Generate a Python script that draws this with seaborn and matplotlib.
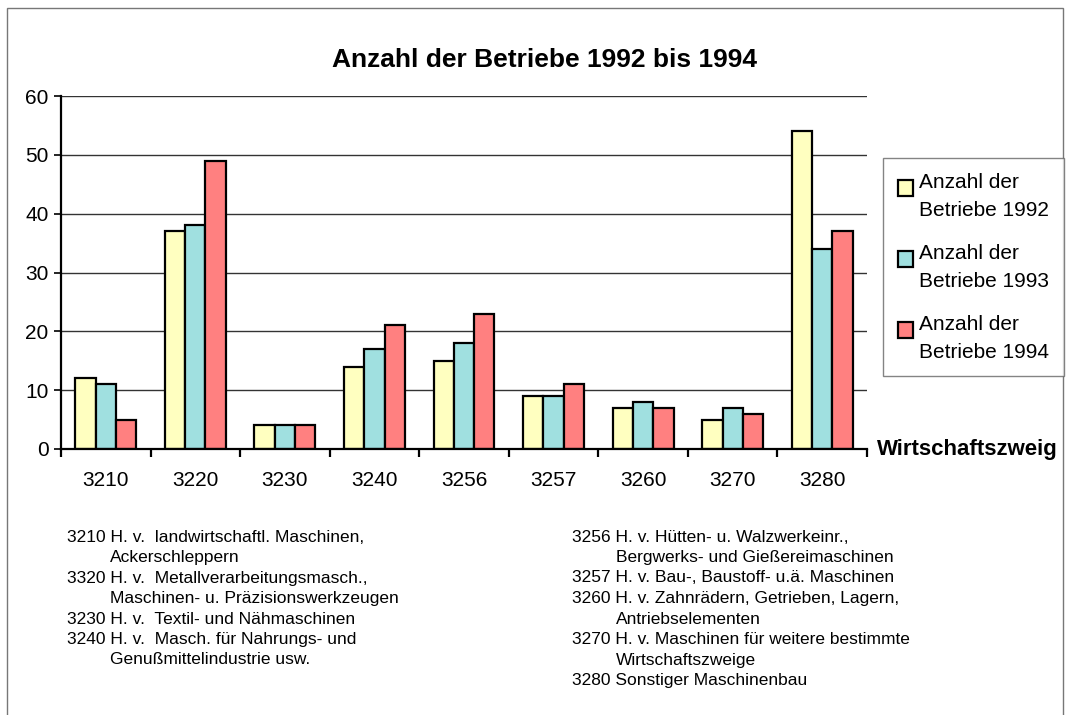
import pandas as pd
import matplotlib.pyplot as plt
import seaborn as sns
from matplotlib.patches import Rectangle
from matplotlib.ticker import FixedLocator
from matplotlib.legend_handler import HandlerPatch

# data
codes = ['3210', '3220', '3230', '3240', '3256', '3257', '3260', '3270', '3280']
years = ['Anzahl der\nBetriebe 1992', 'Anzahl der\nBetriebe 1993', 'Anzahl der\nBetriebe 1994']
n_1992 = [12, 37, 4, 14, 15, 9, 7, 5, 54]
n_1993 = [11, 38, 4, 17, 18, 9, 8, 7, 34]
n_1994 = [5, 49, 4, 21, 23, 11, 7, 6, 37]
colors = ['#FFFFC0', '#A0E0E0', '#FF8080']

notes_left = [
    ('3210 H. v.  landwirtschaftl. Maschinen,', False),
    ('Ackerschleppern', True),
    ('3320 H. v.  Metallverarbeitungsmasch.,', False),
    ('Maschinen- u. Präzisionswerkzeugen', True),
    ('3230 H. v.  Textil- und Nähmaschinen', False),
    ('3240 H. v.  Masch. für Nahrungs- und', False),
    ('Genußmittelindustrie usw.', True),
]
notes_right = [
    ('3256 H. v. Hütten- u. Walzwerkeinr.,', False),
    ('Bergwerks- und Gießereimaschinen', True),
    ('3257 H. v. Bau-, Baustoff- u.ä. Maschinen', False),
    ('3260 H. v. Zahnrädern, Getrieben, Lagern,', False),
    ('Antriebselementen', True),
    ('3270 H. v. Maschinen für weitere bestimmte', False),
    ('Wirtschaftszweige', True),
    ('3280 Sonstiger Maschinenbau', False),
]

df = pd.DataFrame({
    'code': codes * 3,
    'year': [years[0]] * 9 + [years[1]] * 9 + [years[2]] * 9,
    'count': n_1992 + n_1993 + n_1994,
})

sns.set_style('white')
plt.rcParams['font.family'] = ['Liberation Sans', 'DejaVu Sans']
plt.rcParams['text.color'] = 'black'
plt.rcParams['xtick.color'] = 'black'
plt.rcParams['ytick.color'] = 'black'

W, H = 1074, 715
fig = plt.figure(figsize=(W / 100, H / 100), dpi=100)
ax = fig.add_axes([61 / W, 1 - 449 / H, (867 - 61) / W, (449 - 96) / H])

sns.barplot(data=df, x='code', y='count', hue='year', palette=colors, saturation=1,
            width=0.68, gap=0, edgecolor='black', linewidth=1.6, ax=ax)

ax.set_ylim(0, 60)
ax.set_xlim(-0.5, len(codes) - 0.5)
ax.set_yticks(range(0, 61, 10))
ax.yaxis.grid(True, color='#333333', linewidth=1)
ax.set_axisbelow(True)
for s in ['top', 'right']:
    ax.spines[s].set_visible(False)
for s in ['left', 'bottom']:
    ax.spines[s].set_color('black')
    ax.spines[s].set_linewidth(1.6)
ax.set_xlabel('')
ax.set_ylabel('')
ax.tick_params(axis='y', direction='out', length=5, width=1.2, labelsize=15, pad=4, left=True)
ax.tick_params(axis='x', which='major', length=0, labelsize=15, pad=16)
ax.xaxis.set_minor_locator(FixedLocator([i - 0.5 for i in range(len(codes) + 1)]))
ax.tick_params(axis='x', which='minor', direction='out', length=6, width=1.6, bottom=True)

ax.text(1.012, 0, 'Wirtschaftszweig', transform=ax.transAxes, ha='left', va='center',
        fontsize=16, fontweight='bold')


# legend square sits beside the first line of each two-line label
def top_square(legend, orig_handle, xdescent, ydescent, width, height, fontsize):
    return Rectangle((-xdescent, -ydescent + 0.4 * fontsize), width, height)


handles, labels = ax.get_legend_handles_labels()
ax.legend_.remove()
leg = fig.legend(handles, labels, loc='upper left', bbox_to_anchor=(883 / W, 1 - 158 / H),
                 frameon=True, fancybox=False, edgecolor='#666666', fontsize=15,
                 handlelength=0.75, handleheight=0.75, handletextpad=0.3,
                 labelspacing=1.15, borderpad=0.7, borderaxespad=0,
                 handler_map={h: HandlerPatch(patch_func=top_square) for h in handles})
leg.get_frame().set_linewidth(1)
for t in leg.get_texts():
    t.set_linespacing(1.6)

fig.text(545 / W, 1 - 60 / H, 'Anzahl der Betriebe 1992 bis 1994', ha='center', va='center',
         fontsize=19, fontweight='bold')

for col, (x0, x1) in zip([notes_left, notes_right], [(67, 110), (572, 616)]):
    for i, (line, indent) in enumerate(col):
        fig.text((x1 if indent else x0) / W, 1 - (537 + i * 20.5) / H, line,
                 ha='left', va='center', fontsize=12.5)

fig.patches.append(Rectangle((7 / W, -0.1), (1063 - 7) / W, 0.1 + 1 - 8 / H,
                             transform=fig.transFigure, fill=False,
                             edgecolor='#777777', linewidth=1))

fig.savefig('out.png', dpi=100)
